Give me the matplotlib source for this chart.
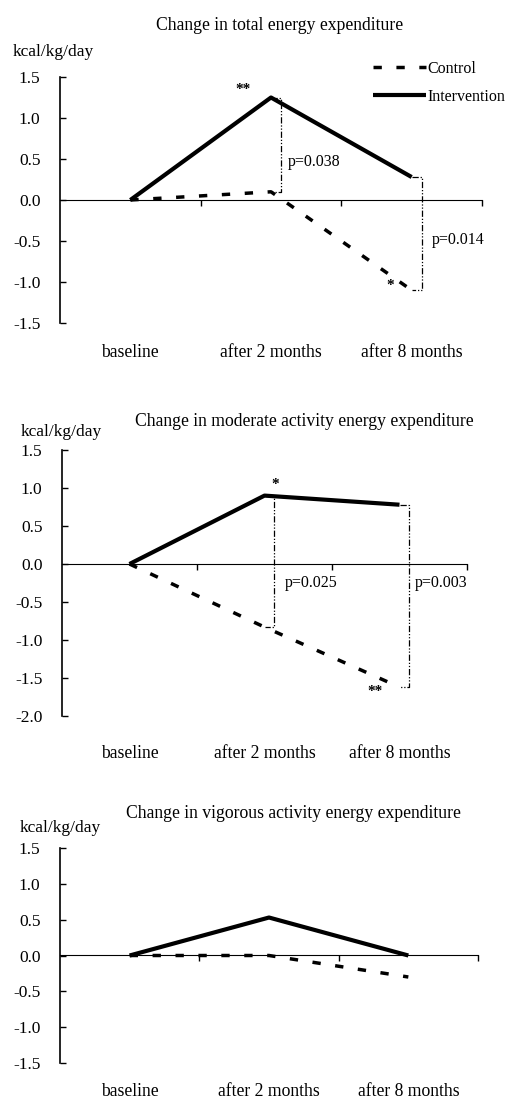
import matplotlib
matplotlib.use("Agg")
import matplotlib.pyplot as plt
import matplotlib.transforms as mtransforms
import numpy as np

plt.rcParams['font.family'] = ['Liberation Serif', 'DejaVu Serif']

categories = ['baseline', 'after 2 months', 'after 8 months']
xpos = np.array([0.5, 1.5, 2.5])

titles = ['Change in total energy expenditure',
          'Change in moderate activity energy expenditure',
          'Change in vigorous activity energy expenditure']

control = [[0.0, 0.10, -1.10],
           [0.0, -0.83, -1.62],
           [0.0, 0.0, -0.30]]
intervention = [[0.0, 1.25, 0.28],
                [0.0, 0.90, 0.78],
                [0.0, 0.53, 0.0]]

# p-value brackets: (category index, p text, text x, text y)
pvals = [[(1, 'p=0.038', 1.62, 0.46), (2, 'p=0.014', 2.64, -0.49)],
         [(1, 'p=0.025', 1.65, -0.25), (2, 'p=0.003', 2.61, -0.25)],
         []]
stars = [[('**', 1.30, 1.35), ('*', 2.35, -1.04)],
         [('*', 1.58, 1.04), ('**', 2.32, -1.68)],
         []]

yticks = [[-1.5, -1.0, -0.5, 0.0, 0.5, 1.0, 1.5],
          [-2.0, -1.5, -1.0, -0.5, 0.0, 0.5, 1.0, 1.5],
          [-1.5, -1.0, -0.5, 0.0, 0.5, 1.0, 1.5]]

W, H = 513, 1099
fig = plt.figure(figsize=(W / 100, H / 100), dpi=100)

# axes boxes in pixels: left, right, top, bottom
boxes = [(60, 482, 77, 323), (62, 467, 450, 716), (60, 478, 848, 1063)]
title_xy = [(280, 25), (304, 422), (293, 813)]
ylab_xy = [(13, 52), (21, 432), (20, 828)]
cat_y = [352, 753, 1092]

for i in range(3):
    l, r, t, b = boxes[i]
    ax = fig.add_axes([l / W, 1 - b / H, (r - l) / W, (b - t) / H])
    yt = yticks[i]
    ax.set_xlim(0, 3)
    ax.set_ylim(yt[0], yt[-1])
    for s in ['top', 'right', 'bottom']:
        ax.spines[s].set_visible(False)
    ax.spines['left'].set_linewidth(1.2)
    ax.set_yticks(yt)
    ax.set_yticklabels(['%.1f' % v for v in yt])
    ax.tick_params(axis='y', direction='in', length=4, width=1, labelsize=12.5, pad=14)
    ax.set_xticks([])

    # zero line with category boundary ticks
    frac = (0 - yt[0]) / (yt[-1] - yt[0])
    sec = ax.secondary_xaxis(frac)
    sec.set_xticks([1, 2, 3])
    sec.set_xticklabels(['', '', ''])
    sec.tick_params(direction='in', length=4, width=1)
    sec.spines['bottom'].set_linewidth(1.0)

    ax.plot(xpos, intervention[i], color='black', lw=3, solid_capstyle='butt',
            label='Intervention', clip_on=False, zorder=3)
    ax.plot(xpos, control[i], color='black', lw=2.5, dashes=(2.4, 4.2),
            label='Control', clip_on=False, zorder=3)

    for k, txt, tx, ty in pvals[i]:
        xb = xpos[k] + 0.07
        ax.plot([xpos[k], xb, xb, xpos[k]],
                [intervention[i][k], intervention[i][k], control[i][k], control[i][k]],
                color='black', lw=0.9, linestyle=(0, (5, 1.5, 1, 1.5, 1, 1.5)))
        ax.text(tx, ty, txt, fontsize=11.5, ha='left', va='center')
    for txt, sx, sy in stars[i]:
        ax.text(sx, sy, txt, fontsize=11, ha='center', va='center', fontweight='bold')

    tr = mtransforms.blended_transform_factory(ax.transData, fig.transFigure)
    for c, x in zip(categories, xpos):
        ax.text(x, 1 - cat_y[i] / H, c, transform=tr,
                fontsize=12.7, ha='center', va='center')

    fig.text(title_xy[i][0] / W, 1 - title_xy[i][1] / H, titles[i],
             fontsize=12.7, ha='center', va='center')
    fig.text(ylab_xy[i][0] / W, 1 - ylab_xy[i][1] / H, 'kcal/kg/day',
             fontsize=12.5, ha='left', va='center')

    if i == 0:
        h, lab = ax.get_legend_handles_labels()
        ax.legend(h[::-1], lab[::-1], loc='upper left',
                  bbox_to_anchor=(373 / W, 1 - 61 / H), bbox_transform=fig.transFigure,
                  frameon=False, fontsize=11.5, handlelength=3.3, handletextpad=0.1,
                  labelspacing=0.75, borderpad=0, borderaxespad=0)

fig.savefig('out.png', dpi=100)
